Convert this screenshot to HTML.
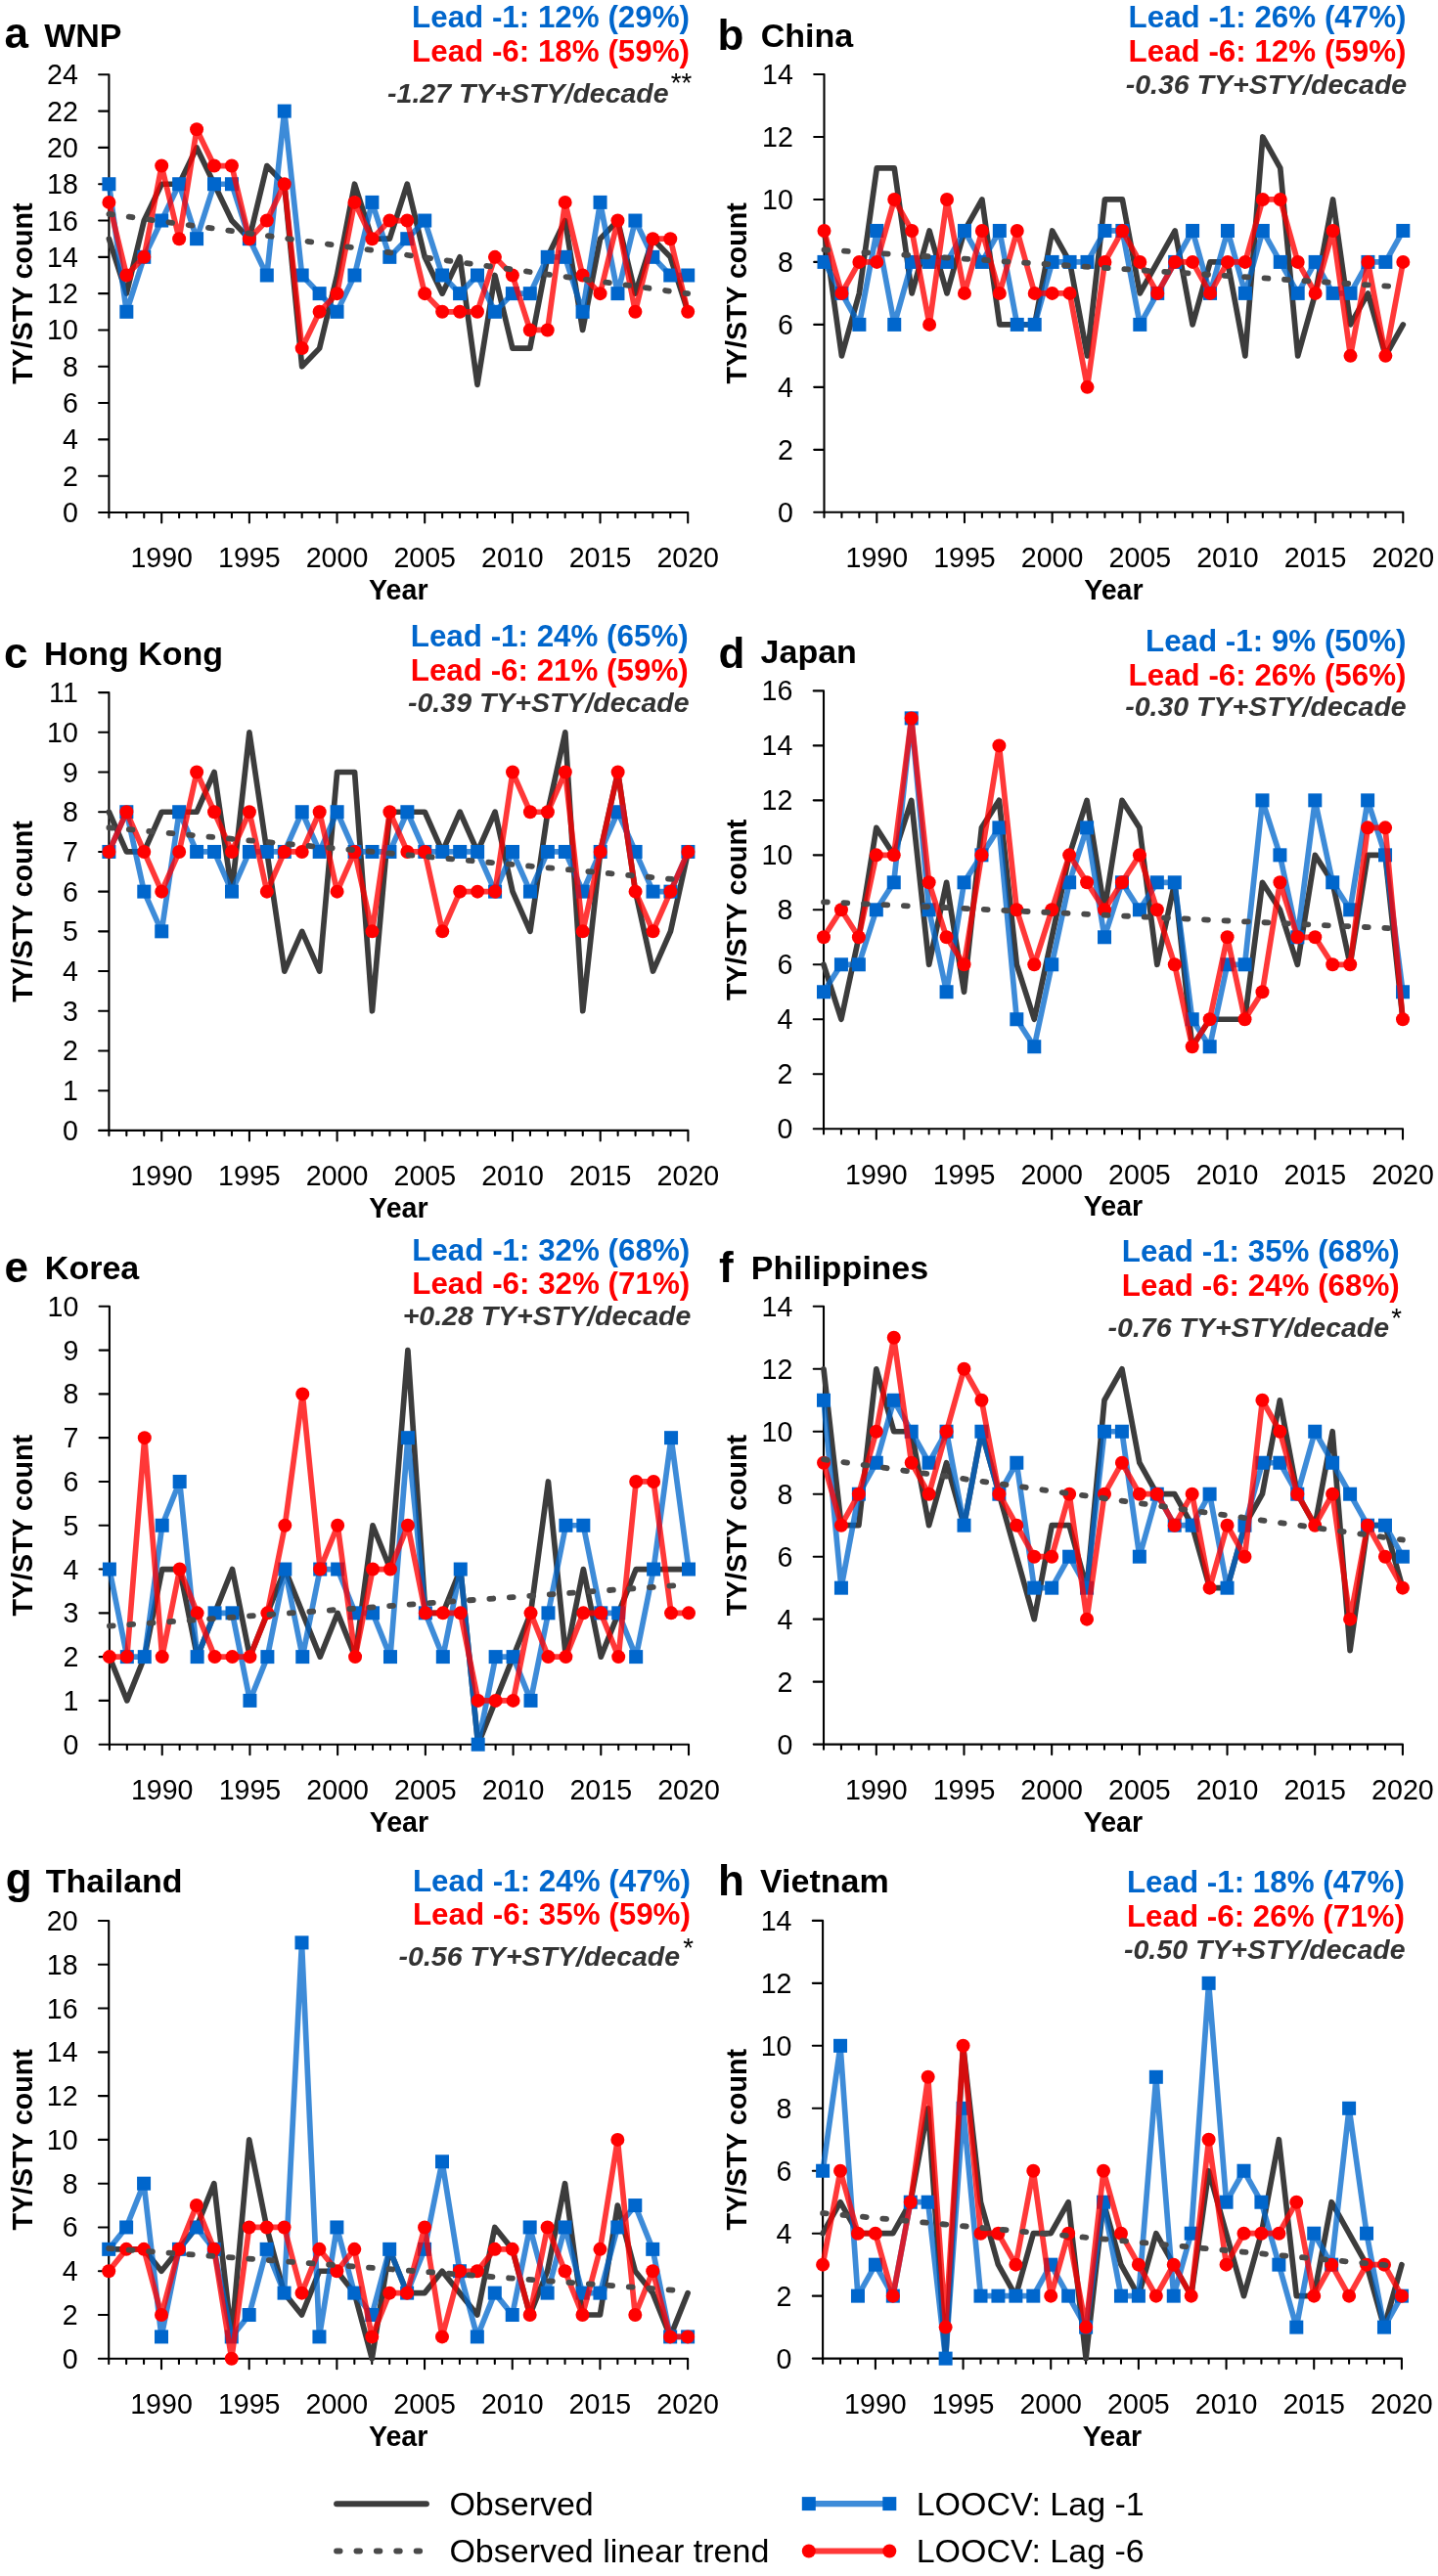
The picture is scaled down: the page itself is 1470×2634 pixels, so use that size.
<!DOCTYPE html><html><head><meta charset="utf-8"><style>html,body{margin:0;padding:0;background:#fff;overflow:hidden;width:1470px;height:2634px}svg{display:block;will-change:transform}text{font-family:"Liberation Sans", sans-serif}</style></head><body>
<svg width="1470" height="2634" viewBox="0 0 1470 2634">
<rect width="1470" height="2634" fill="#fff"/>
<g stroke="#000" stroke-width="2.1" fill="none" stroke-linecap="round">
<path d="M111.4 76.3V529.2M101.1 524H111.4M101.1 486.69H111.4M101.1 449.38H111.4M101.1 412.07H111.4M101.1 374.77H111.4M101.1 337.46H111.4M101.1 300.15H111.4M101.1 262.84H111.4M101.1 225.53H111.4M101.1 188.23H111.4M101.1 150.92H111.4M101.1 113.61H111.4M101.1 76.3H111.4M111.4 524H703.2M129.33 524v5.2M147.27 524v5.2M165.2 524v10.5M183.13 524v5.2M201.07 524v5.2M219 524v5.2M236.93 524v5.2M254.87 524v10.5M272.8 524v5.2M290.73 524v5.2M308.67 524v5.2M326.6 524v5.2M344.53 524v10.5M362.47 524v5.2M380.4 524v5.2M398.33 524v5.2M416.27 524v5.2M434.2 524v10.5M452.13 524v5.2M470.07 524v5.2M488 524v5.2M505.93 524v5.2M523.87 524v10.5M541.8 524v5.2M559.73 524v5.2M577.67 524v5.2M595.6 524v5.2M613.53 524v10.5M631.47 524v5.2M649.4 524v5.2M667.33 524v5.2M685.27 524v5.2M703.2 524v10.5"/>
</g>
<text x="79.8" y="533.98" font-size="28.6" fill="#000" text-anchor="end">0</text>
<text x="79.8" y="496.67" font-size="28.6" fill="#000" text-anchor="end">2</text>
<text x="79.8" y="459.36" font-size="28.6" fill="#000" text-anchor="end">4</text>
<text x="79.8" y="422.06" font-size="28.6" fill="#000" text-anchor="end">6</text>
<text x="79.8" y="384.75" font-size="28.6" fill="#000" text-anchor="end">8</text>
<text x="79.8" y="347.44" font-size="28.6" fill="#000" text-anchor="end">10</text>
<text x="79.8" y="310.13" font-size="28.6" fill="#000" text-anchor="end">12</text>
<text x="79.8" y="272.82" font-size="28.6" fill="#000" text-anchor="end">14</text>
<text x="79.8" y="235.51" font-size="28.6" fill="#000" text-anchor="end">16</text>
<text x="79.8" y="198.21" font-size="28.6" fill="#000" text-anchor="end">18</text>
<text x="79.8" y="160.9" font-size="28.6" fill="#000" text-anchor="end">20</text>
<text x="79.8" y="123.59" font-size="28.6" fill="#000" text-anchor="end">22</text>
<text x="79.8" y="86.28" font-size="28.6" fill="#000" text-anchor="end">24</text>
<text x="165.2" y="580.3" font-size="28.6" fill="#000" text-anchor="middle">1990</text>
<text x="254.87" y="580.3" font-size="28.6" fill="#000" text-anchor="middle">1995</text>
<text x="344.53" y="580.3" font-size="28.6" fill="#000" text-anchor="middle">2000</text>
<text x="434.2" y="580.3" font-size="28.6" fill="#000" text-anchor="middle">2005</text>
<text x="523.87" y="580.3" font-size="28.6" fill="#000" text-anchor="middle">2010</text>
<text x="613.53" y="580.3" font-size="28.6" fill="#000" text-anchor="middle">2015</text>
<text x="703.2" y="580.3" font-size="28.6" fill="#000" text-anchor="middle">2020</text>
<text x="407.3" y="613" font-size="28.6" font-weight="bold" fill="#000" text-anchor="middle">Year</text>
<text transform="translate(32.6 300.15) rotate(-90)" font-size="28.6" font-weight="bold" text-anchor="middle">TY/STY count</text>
<polyline points="111.4,244.19 129.33,300.15 147.27,225.53 165.2,188.23 183.13,188.23 201.07,150.92 219,188.23 236.93,225.53 254.87,244.19 272.8,169.57 290.73,188.23 308.67,374.77 326.6,356.11 344.53,281.5 362.47,188.23 380.4,244.19 398.33,244.19 416.27,188.23 434.2,262.84 452.13,300.15 470.07,262.84 488,393.42 505.93,281.5 523.87,356.11 541.8,356.11 559.73,262.84 577.67,225.53 595.6,337.46 613.53,244.19 631.47,225.53 649.4,300.15 667.33,244.19 685.27,262.84 703.2,318.8" fill="none" stroke="#3c3c3c" stroke-width="5.7" stroke-linejoin="round" stroke-linecap="round"/>
<polyline points="111.4,188.23 129.33,318.8 147.27,262.84 165.2,225.53 183.13,188.23 201.07,244.19 219,188.23 236.93,188.23 254.87,244.19 272.8,281.5 290.73,113.61 308.67,281.5 326.6,300.15 344.53,318.8 362.47,281.5 380.4,206.88 398.33,262.84 416.27,244.19 434.2,225.53 452.13,281.5 470.07,300.15 488,281.5 505.93,318.8 523.87,300.15 541.8,300.15 559.73,262.84 577.67,262.84 595.6,318.8 613.53,206.88 631.47,300.15 649.4,225.53 667.33,262.84 685.27,281.5 703.2,281.5" fill="none" stroke="#0066cc" stroke-opacity="0.76" stroke-width="5.7" stroke-linejoin="round" stroke-linecap="round"/>
<g fill="#0066cc"><rect x="104.4" y="181.23" width="14" height="14"/><rect x="122.33" y="311.8" width="14" height="14"/><rect x="140.27" y="255.84" width="14" height="14"/><rect x="158.2" y="218.53" width="14" height="14"/><rect x="176.13" y="181.23" width="14" height="14"/><rect x="194.07" y="237.19" width="14" height="14"/><rect x="212" y="181.23" width="14" height="14"/><rect x="229.93" y="181.23" width="14" height="14"/><rect x="247.87" y="237.19" width="14" height="14"/><rect x="265.8" y="274.5" width="14" height="14"/><rect x="283.73" y="106.61" width="14" height="14"/><rect x="301.67" y="274.5" width="14" height="14"/><rect x="319.6" y="293.15" width="14" height="14"/><rect x="337.53" y="311.8" width="14" height="14"/><rect x="355.47" y="274.5" width="14" height="14"/><rect x="373.4" y="199.88" width="14" height="14"/><rect x="391.33" y="255.84" width="14" height="14"/><rect x="409.27" y="237.19" width="14" height="14"/><rect x="427.2" y="218.53" width="14" height="14"/><rect x="445.13" y="274.5" width="14" height="14"/><rect x="463.07" y="293.15" width="14" height="14"/><rect x="481" y="274.5" width="14" height="14"/><rect x="498.93" y="311.8" width="14" height="14"/><rect x="516.87" y="293.15" width="14" height="14"/><rect x="534.8" y="293.15" width="14" height="14"/><rect x="552.73" y="255.84" width="14" height="14"/><rect x="570.67" y="255.84" width="14" height="14"/><rect x="588.6" y="311.8" width="14" height="14"/><rect x="606.53" y="199.88" width="14" height="14"/><rect x="624.47" y="293.15" width="14" height="14"/><rect x="642.4" y="218.53" width="14" height="14"/><rect x="660.33" y="255.84" width="14" height="14"/><rect x="678.27" y="274.5" width="14" height="14"/><rect x="696.2" y="274.5" width="14" height="14"/></g>
<polyline points="111.4,206.88 129.33,281.5 147.27,262.84 165.2,169.57 183.13,244.19 201.07,132.26 219,169.57 236.93,169.57 254.87,244.19 272.8,225.53 290.73,188.23 308.67,356.11 326.6,318.8 344.53,300.15 362.47,206.88 380.4,244.19 398.33,225.53 416.27,225.53 434.2,300.15 452.13,318.8 470.07,318.8 488,318.8 505.93,262.84 523.87,281.5 541.8,337.46 559.73,337.46 577.67,206.88 595.6,281.5 613.53,300.15 631.47,225.53 649.4,318.8 667.33,244.19 685.27,244.19 703.2,318.8" fill="none" stroke="#ff0000" stroke-opacity="0.78" stroke-width="5.7" stroke-linejoin="round" stroke-linecap="round"/>
<g fill="#ff0000"><circle cx="111.4" cy="206.88" r="7"/><circle cx="129.33" cy="281.5" r="7"/><circle cx="147.27" cy="262.84" r="7"/><circle cx="165.2" cy="169.57" r="7"/><circle cx="183.13" cy="244.19" r="7"/><circle cx="201.07" cy="132.26" r="7"/><circle cx="219" cy="169.57" r="7"/><circle cx="236.93" cy="169.57" r="7"/><circle cx="254.87" cy="244.19" r="7"/><circle cx="272.8" cy="225.53" r="7"/><circle cx="290.73" cy="188.23" r="7"/><circle cx="308.67" cy="356.11" r="7"/><circle cx="326.6" cy="318.8" r="7"/><circle cx="344.53" cy="300.15" r="7"/><circle cx="362.47" cy="206.88" r="7"/><circle cx="380.4" cy="244.19" r="7"/><circle cx="398.33" cy="225.53" r="7"/><circle cx="416.27" cy="225.53" r="7"/><circle cx="434.2" cy="300.15" r="7"/><circle cx="452.13" cy="318.8" r="7"/><circle cx="470.07" cy="318.8" r="7"/><circle cx="488" cy="318.8" r="7"/><circle cx="505.93" cy="262.84" r="7"/><circle cx="523.87" cy="281.5" r="7"/><circle cx="541.8" cy="337.46" r="7"/><circle cx="559.73" cy="337.46" r="7"/><circle cx="577.67" cy="206.88" r="7"/><circle cx="595.6" cy="281.5" r="7"/><circle cx="613.53" cy="300.15" r="7"/><circle cx="631.47" cy="225.53" r="7"/><circle cx="649.4" cy="318.8" r="7"/><circle cx="667.33" cy="244.19" r="7"/><circle cx="685.27" cy="244.19" r="7"/><circle cx="703.2" cy="318.8" r="7"/></g>
<line x1="111.4" y1="218.92" x2="703.2" y2="300.18" stroke="#4a4a4a" stroke-width="5.8" stroke-linecap="round" stroke-dasharray="3.8 16.7"/>
<text x="4.51" y="48.6" font-size="44" font-weight="bold" fill="#000">a</text>
<text x="45.17" y="48" font-size="34" font-weight="bold" fill="#000">WNP</text>
<text x="421.07" y="28.4" font-size="31.35" font-weight="bold" fill="#0066cc">Lead -1: 12% (29%)</text>
<text x="421.07" y="63" font-size="31.35" font-weight="bold" fill="#ff0000">Lead -6: 18% (59%)</text>
<text x="396.12" y="105" font-size="28.5" font-weight="bold" font-style="italic" fill="#333333">-1.27 TY+STY/decade</text>
<text x="685.76" y="94.12" font-size="27.5" fill="#000">**</text>
<g stroke="#000" stroke-width="2.1" fill="none" stroke-linecap="round">
<path d="M842.5 76V529M832.2 523.8H842.5M832.2 459.83H842.5M832.2 395.86H842.5M832.2 331.89H842.5M832.2 267.91H842.5M832.2 203.94H842.5M832.2 139.97H842.5M832.2 76H842.5M842.5 523.8H1434.3M860.43 523.8v5.2M878.37 523.8v5.2M896.3 523.8v10.5M914.23 523.8v5.2M932.17 523.8v5.2M950.1 523.8v5.2M968.03 523.8v5.2M985.97 523.8v10.5M1003.9 523.8v5.2M1021.83 523.8v5.2M1039.77 523.8v5.2M1057.7 523.8v5.2M1075.63 523.8v10.5M1093.57 523.8v5.2M1111.5 523.8v5.2M1129.43 523.8v5.2M1147.37 523.8v5.2M1165.3 523.8v10.5M1183.23 523.8v5.2M1201.17 523.8v5.2M1219.1 523.8v5.2M1237.03 523.8v5.2M1254.97 523.8v10.5M1272.9 523.8v5.2M1290.83 523.8v5.2M1308.77 523.8v5.2M1326.7 523.8v5.2M1344.63 523.8v10.5M1362.57 523.8v5.2M1380.5 523.8v5.2M1398.43 523.8v5.2M1416.37 523.8v5.2M1434.3 523.8v10.5"/>
</g>
<text x="810.9" y="533.78" font-size="28.6" fill="#000" text-anchor="end">0</text>
<text x="810.9" y="469.81" font-size="28.6" fill="#000" text-anchor="end">2</text>
<text x="810.9" y="405.84" font-size="28.6" fill="#000" text-anchor="end">4</text>
<text x="810.9" y="341.87" font-size="28.6" fill="#000" text-anchor="end">6</text>
<text x="810.9" y="277.89" font-size="28.6" fill="#000" text-anchor="end">8</text>
<text x="810.9" y="213.92" font-size="28.6" fill="#000" text-anchor="end">10</text>
<text x="810.9" y="149.95" font-size="28.6" fill="#000" text-anchor="end">12</text>
<text x="810.9" y="85.98" font-size="28.6" fill="#000" text-anchor="end">14</text>
<text x="896.3" y="580.1" font-size="28.6" fill="#000" text-anchor="middle">1990</text>
<text x="985.97" y="580.1" font-size="28.6" fill="#000" text-anchor="middle">1995</text>
<text x="1075.63" y="580.1" font-size="28.6" fill="#000" text-anchor="middle">2000</text>
<text x="1165.3" y="580.1" font-size="28.6" fill="#000" text-anchor="middle">2005</text>
<text x="1254.97" y="580.1" font-size="28.6" fill="#000" text-anchor="middle">2010</text>
<text x="1344.63" y="580.1" font-size="28.6" fill="#000" text-anchor="middle">2015</text>
<text x="1434.3" y="580.1" font-size="28.6" fill="#000" text-anchor="middle">2020</text>
<text x="1138.4" y="612.8" font-size="28.6" font-weight="bold" fill="#000" text-anchor="middle">Year</text>
<text transform="translate(763.3 299.9) rotate(-90)" font-size="28.6" font-weight="bold" text-anchor="middle">TY/STY count</text>
<polyline points="842.5,235.93 860.43,363.87 878.37,299.9 896.3,171.96 914.23,171.96 932.17,299.9 950.1,235.93 968.03,299.9 985.97,235.93 1003.9,203.94 1021.83,331.89 1039.77,331.89 1057.7,331.89 1075.63,235.93 1093.57,267.91 1111.5,363.87 1129.43,203.94 1147.37,203.94 1165.3,299.9 1183.23,267.91 1201.17,235.93 1219.1,331.89 1237.03,267.91 1254.97,267.91 1272.9,363.87 1290.83,139.97 1308.77,171.96 1326.7,363.87 1344.63,299.9 1362.57,203.94 1380.5,331.89 1398.43,299.9 1416.37,363.87 1434.3,331.89" fill="none" stroke="#3c3c3c" stroke-width="5.7" stroke-linejoin="round" stroke-linecap="round"/>
<polyline points="842.5,267.91 860.43,299.9 878.37,331.89 896.3,235.93 914.23,331.89 932.17,267.91 950.1,267.91 968.03,267.91 985.97,235.93 1003.9,267.91 1021.83,235.93 1039.77,331.89 1057.7,331.89 1075.63,267.91 1093.57,267.91 1111.5,267.91 1129.43,235.93 1147.37,235.93 1165.3,331.89 1183.23,299.9 1201.17,267.91 1219.1,235.93 1237.03,299.9 1254.97,235.93 1272.9,299.9 1290.83,235.93 1308.77,267.91 1326.7,299.9 1344.63,267.91 1362.57,299.9 1380.5,299.9 1398.43,267.91 1416.37,267.91 1434.3,235.93" fill="none" stroke="#0066cc" stroke-opacity="0.76" stroke-width="5.7" stroke-linejoin="round" stroke-linecap="round"/>
<g fill="#0066cc"><rect x="835.5" y="260.91" width="14" height="14"/><rect x="853.43" y="292.9" width="14" height="14"/><rect x="871.37" y="324.89" width="14" height="14"/><rect x="889.3" y="228.93" width="14" height="14"/><rect x="907.23" y="324.89" width="14" height="14"/><rect x="925.17" y="260.91" width="14" height="14"/><rect x="943.1" y="260.91" width="14" height="14"/><rect x="961.03" y="260.91" width="14" height="14"/><rect x="978.97" y="228.93" width="14" height="14"/><rect x="996.9" y="260.91" width="14" height="14"/><rect x="1014.83" y="228.93" width="14" height="14"/><rect x="1032.77" y="324.89" width="14" height="14"/><rect x="1050.7" y="324.89" width="14" height="14"/><rect x="1068.63" y="260.91" width="14" height="14"/><rect x="1086.57" y="260.91" width="14" height="14"/><rect x="1104.5" y="260.91" width="14" height="14"/><rect x="1122.43" y="228.93" width="14" height="14"/><rect x="1140.37" y="228.93" width="14" height="14"/><rect x="1158.3" y="324.89" width="14" height="14"/><rect x="1176.23" y="292.9" width="14" height="14"/><rect x="1194.17" y="260.91" width="14" height="14"/><rect x="1212.1" y="228.93" width="14" height="14"/><rect x="1230.03" y="292.9" width="14" height="14"/><rect x="1247.97" y="228.93" width="14" height="14"/><rect x="1265.9" y="292.9" width="14" height="14"/><rect x="1283.83" y="228.93" width="14" height="14"/><rect x="1301.77" y="260.91" width="14" height="14"/><rect x="1319.7" y="292.9" width="14" height="14"/><rect x="1337.63" y="260.91" width="14" height="14"/><rect x="1355.57" y="292.9" width="14" height="14"/><rect x="1373.5" y="292.9" width="14" height="14"/><rect x="1391.43" y="260.91" width="14" height="14"/><rect x="1409.37" y="260.91" width="14" height="14"/><rect x="1427.3" y="228.93" width="14" height="14"/></g>
<polyline points="842.5,235.93 860.43,299.9 878.37,267.91 896.3,267.91 914.23,203.94 932.17,235.93 950.1,331.89 968.03,203.94 985.97,299.9 1003.9,235.93 1021.83,299.9 1039.77,235.93 1057.7,299.9 1075.63,299.9 1093.57,299.9 1111.5,395.86 1129.43,267.91 1147.37,235.93 1165.3,267.91 1183.23,299.9 1201.17,267.91 1219.1,267.91 1237.03,299.9 1254.97,267.91 1272.9,267.91 1290.83,203.94 1308.77,203.94 1326.7,267.91 1344.63,299.9 1362.57,235.93 1380.5,363.87 1398.43,267.91 1416.37,363.87 1434.3,267.91" fill="none" stroke="#ff0000" stroke-opacity="0.78" stroke-width="5.7" stroke-linejoin="round" stroke-linecap="round"/>
<g fill="#ff0000"><circle cx="842.5" cy="235.93" r="7"/><circle cx="860.43" cy="299.9" r="7"/><circle cx="878.37" cy="267.91" r="7"/><circle cx="896.3" cy="267.91" r="7"/><circle cx="914.23" cy="203.94" r="7"/><circle cx="932.17" cy="235.93" r="7"/><circle cx="950.1" cy="331.89" r="7"/><circle cx="968.03" cy="203.94" r="7"/><circle cx="985.97" cy="299.9" r="7"/><circle cx="1003.9" cy="235.93" r="7"/><circle cx="1021.83" cy="299.9" r="7"/><circle cx="1039.77" cy="235.93" r="7"/><circle cx="1057.7" cy="299.9" r="7"/><circle cx="1075.63" cy="299.9" r="7"/><circle cx="1093.57" cy="299.9" r="7"/><circle cx="1111.5" cy="395.86" r="7"/><circle cx="1129.43" cy="267.91" r="7"/><circle cx="1147.37" cy="235.93" r="7"/><circle cx="1165.3" cy="267.91" r="7"/><circle cx="1183.23" cy="299.9" r="7"/><circle cx="1201.17" cy="267.91" r="7"/><circle cx="1219.1" cy="267.91" r="7"/><circle cx="1237.03" cy="299.9" r="7"/><circle cx="1254.97" cy="267.91" r="7"/><circle cx="1272.9" cy="267.91" r="7"/><circle cx="1290.83" cy="203.94" r="7"/><circle cx="1308.77" cy="203.94" r="7"/><circle cx="1326.7" cy="267.91" r="7"/><circle cx="1344.63" cy="299.9" r="7"/><circle cx="1362.57" cy="235.93" r="7"/><circle cx="1380.5" cy="363.87" r="7"/><circle cx="1398.43" cy="267.91" r="7"/><circle cx="1416.37" cy="363.87" r="7"/><circle cx="1434.3" cy="267.91" r="7"/></g>
<line x1="842.5" y1="255.39" x2="1434.3" y2="293.61" stroke="#4a4a4a" stroke-width="5.8" stroke-linecap="round" stroke-dasharray="3.8 16.7"/>
<text x="733.4" y="51.4" font-size="44" font-weight="bold" fill="#000">b</text>
<text x="777.81" y="48.1" font-size="34" font-weight="bold" fill="#000">China</text>
<text x="1153.57" y="28" font-size="31.35" font-weight="bold" fill="#0066cc">Lead -1: 26% (47%)</text>
<text x="1153.57" y="63.1" font-size="31.35" font-weight="bold" fill="#ff0000">Lead -6: 12% (59%)</text>
<text x="1150.72" y="95.6" font-size="28.5" font-weight="bold" font-style="italic" fill="#333333">-0.36 TY+STY/decade</text>
<g stroke="#000" stroke-width="2.1" fill="none" stroke-linecap="round">
<path d="M111.4 708.1V1161.1M101.1 1155.9H111.4M101.1 1115.19H111.4M101.1 1074.48H111.4M101.1 1033.77H111.4M101.1 993.06H111.4M101.1 952.35H111.4M101.1 911.65H111.4M101.1 870.94H111.4M101.1 830.23H111.4M101.1 789.52H111.4M101.1 748.81H111.4M101.1 708.1H111.4M111.4 1155.9H703.4M129.34 1155.9v5.2M147.28 1155.9v5.2M165.22 1155.9v10.5M183.16 1155.9v5.2M201.1 1155.9v5.2M219.04 1155.9v5.2M236.98 1155.9v5.2M254.92 1155.9v10.5M272.85 1155.9v5.2M290.79 1155.9v5.2M308.73 1155.9v5.2M326.67 1155.9v5.2M344.61 1155.9v10.5M362.55 1155.9v5.2M380.49 1155.9v5.2M398.43 1155.9v5.2M416.37 1155.9v5.2M434.31 1155.9v10.5M452.25 1155.9v5.2M470.19 1155.9v5.2M488.13 1155.9v5.2M506.07 1155.9v5.2M524.01 1155.9v10.5M541.95 1155.9v5.2M559.88 1155.9v5.2M577.82 1155.9v5.2M595.76 1155.9v5.2M613.7 1155.9v10.5M631.64 1155.9v5.2M649.58 1155.9v5.2M667.52 1155.9v5.2M685.46 1155.9v5.2M703.4 1155.9v10.5"/>
</g>
<text x="79.8" y="1165.88" font-size="28.6" fill="#000" text-anchor="end">0</text>
<text x="79.8" y="1125.17" font-size="28.6" fill="#000" text-anchor="end">1</text>
<text x="79.8" y="1084.46" font-size="28.6" fill="#000" text-anchor="end">2</text>
<text x="79.8" y="1043.75" font-size="28.6" fill="#000" text-anchor="end">3</text>
<text x="79.8" y="1003.04" font-size="28.6" fill="#000" text-anchor="end">4</text>
<text x="79.8" y="962.33" font-size="28.6" fill="#000" text-anchor="end">5</text>
<text x="79.8" y="921.63" font-size="28.6" fill="#000" text-anchor="end">6</text>
<text x="79.8" y="880.92" font-size="28.6" fill="#000" text-anchor="end">7</text>
<text x="79.8" y="840.21" font-size="28.6" fill="#000" text-anchor="end">8</text>
<text x="79.8" y="799.5" font-size="28.6" fill="#000" text-anchor="end">9</text>
<text x="79.8" y="758.79" font-size="28.6" fill="#000" text-anchor="end">10</text>
<text x="79.8" y="718.08" font-size="28.6" fill="#000" text-anchor="end">11</text>
<text x="165.22" y="1212.2" font-size="28.6" fill="#000" text-anchor="middle">1990</text>
<text x="254.92" y="1212.2" font-size="28.6" fill="#000" text-anchor="middle">1995</text>
<text x="344.61" y="1212.2" font-size="28.6" fill="#000" text-anchor="middle">2000</text>
<text x="434.31" y="1212.2" font-size="28.6" fill="#000" text-anchor="middle">2005</text>
<text x="524.01" y="1212.2" font-size="28.6" fill="#000" text-anchor="middle">2010</text>
<text x="613.7" y="1212.2" font-size="28.6" fill="#000" text-anchor="middle">2015</text>
<text x="703.4" y="1212.2" font-size="28.6" fill="#000" text-anchor="middle">2020</text>
<text x="407.4" y="1244.9" font-size="28.6" font-weight="bold" fill="#000" text-anchor="middle">Year</text>
<text transform="translate(32.6 932) rotate(-90)" font-size="28.6" font-weight="bold" text-anchor="middle">TY/STY count</text>
<polyline points="111.4,830.23 129.34,870.94 147.28,870.94 165.22,830.23 183.16,830.23 201.1,830.23 219.04,789.52 236.98,911.65 254.92,748.81 272.85,870.94 290.79,993.06 308.73,952.35 326.67,993.06 344.61,789.52 362.55,789.52 380.49,1033.77 398.43,830.23 416.37,830.23 434.31,830.23 452.25,870.94 470.19,830.23 488.13,870.94 506.07,830.23 524.01,911.65 541.95,952.35 559.88,830.23 577.82,748.81 595.76,1033.77 613.7,870.94 631.64,789.52 649.58,911.65 667.52,993.06 685.46,952.35 703.4,870.94" fill="none" stroke="#3c3c3c" stroke-width="5.7" stroke-linejoin="round" stroke-linecap="round"/>
<polyline points="111.4,870.94 129.34,830.23 147.28,911.65 165.22,952.35 183.16,830.23 201.1,870.94 219.04,870.94 236.98,911.65 254.92,870.94 272.85,870.94 290.79,870.94 308.73,830.23 326.67,870.94 344.61,830.23 362.55,870.94 380.49,870.94 398.43,870.94 416.37,830.23 434.31,870.94 452.25,870.94 470.19,870.94 488.13,870.94 506.07,911.65 524.01,870.94 541.95,911.65 559.88,870.94 577.82,870.94 595.76,911.65 613.7,870.94 631.64,830.23 649.58,870.94 667.52,911.65 685.46,911.65 703.4,870.94" fill="none" stroke="#0066cc" stroke-opacity="0.76" stroke-width="5.7" stroke-linejoin="round" stroke-linecap="round"/>
<g fill="#0066cc"><rect x="104.4" y="863.94" width="14" height="14"/><rect x="122.34" y="823.23" width="14" height="14"/><rect x="140.28" y="904.65" width="14" height="14"/><rect x="158.22" y="945.35" width="14" height="14"/><rect x="176.16" y="823.23" width="14" height="14"/><rect x="194.1" y="863.94" width="14" height="14"/><rect x="212.04" y="863.94" width="14" height="14"/><rect x="229.98" y="904.65" width="14" height="14"/><rect x="247.92" y="863.94" width="14" height="14"/><rect x="265.85" y="863.94" width="14" height="14"/><rect x="283.79" y="863.94" width="14" height="14"/><rect x="301.73" y="823.23" width="14" height="14"/><rect x="319.67" y="863.94" width="14" height="14"/><rect x="337.61" y="823.23" width="14" height="14"/><rect x="355.55" y="863.94" width="14" height="14"/><rect x="373.49" y="863.94" width="14" height="14"/><rect x="391.43" y="863.94" width="14" height="14"/><rect x="409.37" y="823.23" width="14" height="14"/><rect x="427.31" y="863.94" width="14" height="14"/><rect x="445.25" y="863.94" width="14" height="14"/><rect x="463.19" y="863.94" width="14" height="14"/><rect x="481.13" y="863.94" width="14" height="14"/><rect x="499.07" y="904.65" width="14" height="14"/><rect x="517.01" y="863.94" width="14" height="14"/><rect x="534.95" y="904.65" width="14" height="14"/><rect x="552.88" y="863.94" width="14" height="14"/><rect x="570.82" y="863.94" width="14" height="14"/><rect x="588.76" y="904.65" width="14" height="14"/><rect x="606.7" y="863.94" width="14" height="14"/><rect x="624.64" y="823.23" width="14" height="14"/><rect x="642.58" y="863.94" width="14" height="14"/><rect x="660.52" y="904.65" width="14" height="14"/><rect x="678.46" y="904.65" width="14" height="14"/><rect x="696.4" y="863.94" width="14" height="14"/></g>
<polyline points="111.4,870.94 129.34,830.23 147.28,870.94 165.22,911.65 183.16,870.94 201.1,789.52 219.04,830.23 236.98,870.94 254.92,830.23 272.85,911.65 290.79,870.94 308.73,870.94 326.67,830.23 344.61,911.65 362.55,870.94 380.49,952.35 398.43,830.23 416.37,870.94 434.31,870.94 452.25,952.35 470.19,911.65 488.13,911.65 506.07,911.65 524.01,789.52 541.95,830.23 559.88,830.23 577.82,789.52 595.76,952.35 613.7,870.94 631.64,789.52 649.58,911.65 667.52,952.35 685.46,911.65 703.4,870.94" fill="none" stroke="#ff0000" stroke-opacity="0.78" stroke-width="5.7" stroke-linejoin="round" stroke-linecap="round"/>
<g fill="#ff0000"><circle cx="111.4" cy="870.94" r="7"/><circle cx="129.34" cy="830.23" r="7"/><circle cx="147.28" cy="870.94" r="7"/><circle cx="165.22" cy="911.65" r="7"/><circle cx="183.16" cy="870.94" r="7"/><circle cx="201.1" cy="789.52" r="7"/><circle cx="219.04" cy="830.23" r="7"/><circle cx="236.98" cy="870.94" r="7"/><circle cx="254.92" cy="830.23" r="7"/><circle cx="272.85" cy="911.65" r="7"/><circle cx="290.79" cy="870.94" r="7"/><circle cx="308.73" cy="870.94" r="7"/><circle cx="326.67" cy="830.23" r="7"/><circle cx="344.61" cy="911.65" r="7"/><circle cx="362.55" cy="870.94" r="7"/><circle cx="380.49" cy="952.35" r="7"/><circle cx="398.43" cy="830.23" r="7"/><circle cx="416.37" cy="870.94" r="7"/><circle cx="434.31" cy="870.94" r="7"/><circle cx="452.25" cy="952.35" r="7"/><circle cx="470.19" cy="911.65" r="7"/><circle cx="488.13" cy="911.65" r="7"/><circle cx="506.07" cy="911.65" r="7"/><circle cx="524.01" cy="789.52" r="7"/><circle cx="541.95" cy="830.23" r="7"/><circle cx="559.88" cy="830.23" r="7"/><circle cx="577.82" cy="789.52" r="7"/><circle cx="595.76" cy="952.35" r="7"/><circle cx="613.7" cy="870.94" r="7"/><circle cx="631.64" cy="789.52" r="7"/><circle cx="649.58" cy="911.65" r="7"/><circle cx="667.52" cy="952.35" r="7"/><circle cx="685.46" cy="911.65" r="7"/><circle cx="703.4" cy="870.94" r="7"/></g>
<line x1="111.4" y1="846.24" x2="703.4" y2="900.42" stroke="#4a4a4a" stroke-width="5.8" stroke-linecap="round" stroke-dasharray="3.8 16.7"/>
<text x="4.08" y="682.8" font-size="44" font-weight="bold" fill="#000">c</text>
<text x="44.93" y="680.1" font-size="34" font-weight="bold" fill="#000">Hong Kong</text>
<text x="419.77" y="661" font-size="31.35" font-weight="bold" fill="#0066cc">Lead -1: 24% (65%)</text>
<text x="419.77" y="695.8" font-size="31.35" font-weight="bold" fill="#ff0000">Lead -6: 21% (59%)</text>
<text x="417.02" y="727.8" font-size="28.5" font-weight="bold" font-style="italic" fill="#333333">-0.39 TY+STY/decade</text>
<g stroke="#000" stroke-width="2.1" fill="none" stroke-linecap="round">
<path d="M842 706.4V1159.4M831.7 1154.2H842M831.7 1098.23H842M831.7 1042.25H842M831.7 986.28H842M831.7 930.3H842M831.7 874.33H842M831.7 818.35H842M831.7 762.38H842M831.7 706.4H842M842 1154.2H1434M859.94 1154.2v5.2M877.88 1154.2v5.2M895.82 1154.2v10.5M913.76 1154.2v5.2M931.7 1154.2v5.2M949.64 1154.2v5.2M967.58 1154.2v5.2M985.52 1154.2v10.5M1003.45 1154.2v5.2M1021.39 1154.2v5.2M1039.33 1154.2v5.2M1057.27 1154.2v5.2M1075.21 1154.2v10.5M1093.15 1154.2v5.2M1111.09 1154.2v5.2M1129.03 1154.2v5.2M1146.97 1154.2v5.2M1164.91 1154.2v10.5M1182.85 1154.2v5.2M1200.79 1154.2v5.2M1218.73 1154.2v5.2M1236.67 1154.2v5.2M1254.61 1154.2v10.5M1272.55 1154.2v5.2M1290.48 1154.2v5.2M1308.42 1154.2v5.2M1326.36 1154.2v5.2M1344.3 1154.2v10.5M1362.24 1154.2v5.2M1380.18 1154.2v5.2M1398.12 1154.2v5.2M1416.06 1154.2v5.2M1434 1154.2v10.5"/>
</g>
<text x="810.4" y="1164.18" font-size="28.6" fill="#000" text-anchor="end">0</text>
<text x="810.4" y="1108.21" font-size="28.6" fill="#000" text-anchor="end">2</text>
<text x="810.4" y="1052.23" font-size="28.6" fill="#000" text-anchor="end">4</text>
<text x="810.4" y="996.26" font-size="28.6" fill="#000" text-anchor="end">6</text>
<text x="810.4" y="940.28" font-size="28.6" fill="#000" text-anchor="end">8</text>
<text x="810.4" y="884.31" font-size="28.6" fill="#000" text-anchor="end">10</text>
<text x="810.4" y="828.33" font-size="28.6" fill="#000" text-anchor="end">12</text>
<text x="810.4" y="772.36" font-size="28.6" fill="#000" text-anchor="end">14</text>
<text x="810.4" y="716.38" font-size="28.6" fill="#000" text-anchor="end">16</text>
<text x="895.82" y="1210.5" font-size="28.6" fill="#000" text-anchor="middle">1990</text>
<text x="985.52" y="1210.5" font-size="28.6" fill="#000" text-anchor="middle">1995</text>
<text x="1075.21" y="1210.5" font-size="28.6" fill="#000" text-anchor="middle">2000</text>
<text x="1164.91" y="1210.5" font-size="28.6" fill="#000" text-anchor="middle">2005</text>
<text x="1254.61" y="1210.5" font-size="28.6" fill="#000" text-anchor="middle">2010</text>
<text x="1344.3" y="1210.5" font-size="28.6" fill="#000" text-anchor="middle">2015</text>
<text x="1434" y="1210.5" font-size="28.6" fill="#000" text-anchor="middle">2020</text>
<text x="1138" y="1243.2" font-size="28.6" font-weight="bold" fill="#000" text-anchor="middle">Year</text>
<text transform="translate(763.3 930.3) rotate(-90)" font-size="28.6" font-weight="bold" text-anchor="middle">TY/STY count</text>
<polyline points="842,986.28 859.94,1042.25 877.88,958.29 895.82,846.34 913.76,874.33 931.7,818.35 949.64,986.28 967.58,902.31 985.52,1014.26 1003.45,846.34 1021.39,818.35 1039.33,986.28 1057.27,1042.25 1075.21,958.29 1093.15,874.33 1111.09,818.35 1129.03,930.3 1146.97,818.35 1164.91,846.34 1182.85,986.28 1200.79,902.31 1218.73,1070.24 1236.67,1042.25 1254.61,1042.25 1272.55,1042.25 1290.48,902.31 1308.42,930.3 1326.36,986.28 1344.3,874.33 1362.24,902.31 1380.18,986.28 1398.12,874.33 1416.06,874.33 1434,1042.25" fill="none" stroke="#3c3c3c" stroke-width="5.7" stroke-linejoin="round" stroke-linecap="round"/>
<polyline points="842,1014.26 859.94,986.28 877.88,986.28 895.82,930.3 913.76,902.31 931.7,734.39 949.64,930.3 967.58,1014.26 985.52,902.31 1003.45,874.33 1021.39,846.34 1039.33,1042.25 1057.27,1070.24 1075.21,986.28 1093.15,902.31 1111.09,846.34 1129.03,958.29 1146.97,902.31 1164.91,930.3 1182.85,902.31 1200.79,902.31 1218.73,1042.25 1236.67,1070.24 1254.61,986.28 1272.55,986.28 1290.48,818.35 1308.42,874.33 1326.36,958.29 1344.3,818.35 1362.24,902.31 1380.18,930.3 1398.12,818.35 1416.06,874.33 1434,1014.26" fill="none" stroke="#0066cc" stroke-opacity="0.76" stroke-width="5.7" stroke-linejoin="round" stroke-linecap="round"/>
<g fill="#0066cc"><rect x="835" y="1007.26" width="14" height="14"/><rect x="852.94" y="979.28" width="14" height="14"/><rect x="870.88" y="979.28" width="14" height="14"/><rect x="888.82" y="923.3" width="14" height="14"/><rect x="906.76" y="895.31" width="14" height="14"/><rect x="924.7" y="727.39" width="14" height="14"/><rect x="942.64" y="923.3" width="14" height="14"/><rect x="960.58" y="1007.26" width="14" height="14"/><rect x="978.52" y="895.31" width="14" height="14"/><rect x="996.45" y="867.33" width="14" height="14"/><rect x="1014.39" y="839.34" width="14" height="14"/><rect x="1032.33" y="1035.25" width="14" height="14"/><rect x="1050.27" y="1063.24" width="14" height="14"/><rect x="1068.21" y="979.28" width="14" height="14"/><rect x="1086.15" y="895.31" width="14" height="14"/><rect x="1104.09" y="839.34" width="14" height="14"/><rect x="1122.03" y="951.29" width="14" height="14"/><rect x="1139.97" y="895.31" width="14" height="14"/><rect x="1157.91" y="923.3" width="14" height="14"/><rect x="1175.85" y="895.31" width="14" height="14"/><rect x="1193.79" y="895.31" width="14" height="14"/><rect x="1211.73" y="1035.25" width="14" height="14"/><rect x="1229.67" y="1063.24" width="14" height="14"/><rect x="1247.61" y="979.28" width="14" height="14"/><rect x="1265.55" y="979.28" width="14" height="14"/><rect x="1283.48" y="811.35" width="14" height="14"/><rect x="1301.42" y="867.33" width="14" height="14"/><rect x="1319.36" y="951.29" width="14" height="14"/><rect x="1337.3" y="811.35" width="14" height="14"/><rect x="1355.24" y="895.31" width="14" height="14"/><rect x="1373.18" y="923.3" width="14" height="14"/><rect x="1391.12" y="811.35" width="14" height="14"/><rect x="1409.06" y="867.33" width="14" height="14"/><rect x="1427" y="1007.26" width="14" height="14"/></g>
<polyline points="842,958.29 859.94,930.3 877.88,958.29 895.82,874.33 913.76,874.33 931.7,734.39 949.64,902.31 967.58,958.29 985.52,986.28 1003.45,874.33 1021.39,762.38 1039.33,930.3 1057.27,986.28 1075.21,930.3 1093.15,874.33 1111.09,902.31 1129.03,930.3 1146.97,902.31 1164.91,874.33 1182.85,930.3 1200.79,986.28 1218.73,1070.24 1236.67,1042.25 1254.61,958.29 1272.55,1042.25 1290.48,1014.26 1308.42,902.31 1326.36,958.29 1344.3,958.29 1362.24,986.28 1380.18,986.28 1398.12,846.34 1416.06,846.34 1434,1042.25" fill="none" stroke="#ff0000" stroke-opacity="0.78" stroke-width="5.7" stroke-linejoin="round" stroke-linecap="round"/>
<g fill="#ff0000"><circle cx="842" cy="958.29" r="7"/><circle cx="859.94" cy="930.3" r="7"/><circle cx="877.88" cy="958.29" r="7"/><circle cx="895.82" cy="874.33" r="7"/><circle cx="913.76" cy="874.33" r="7"/><circle cx="931.7" cy="734.39" r="7"/><circle cx="949.64" cy="902.31" r="7"/><circle cx="967.58" cy="958.29" r="7"/><circle cx="985.52" cy="986.28" r="7"/><circle cx="1003.45" cy="874.33" r="7"/><circle cx="1021.39" cy="762.38" r="7"/><circle cx="1039.33" cy="930.3" r="7"/><circle cx="1057.27" cy="986.28" r="7"/><circle cx="1075.21" cy="930.3" r="7"/><circle cx="1093.15" cy="874.33" r="7"/><circle cx="1111.09" cy="902.31" r="7"/><circle cx="1129.03" cy="930.3" r="7"/><circle cx="1146.97" cy="902.31" r="7"/><circle cx="1164.91" cy="874.33" r="7"/><circle cx="1182.85" cy="930.3" r="7"/><circle cx="1200.79" cy="986.28" r="7"/><circle cx="1218.73" cy="1070.24" r="7"/><circle cx="1236.67" cy="1042.25" r="7"/><circle cx="1254.61" cy="958.29" r="7"/><circle cx="1272.55" cy="1042.25" r="7"/><circle cx="1290.48" cy="1014.26" r="7"/><circle cx="1308.42" cy="902.31" r="7"/><circle cx="1326.36" cy="958.29" r="7"/><circle cx="1344.3" cy="958.29" r="7"/><circle cx="1362.24" cy="986.28" r="7"/><circle cx="1380.18" cy="986.28" r="7"/><circle cx="1398.12" cy="846.34" r="7"/><circle cx="1416.06" cy="846.34" r="7"/><circle cx="1434" cy="1042.25" r="7"/></g>
<line x1="842" y1="922.3" x2="1434" y2="949.82" stroke="#4a4a4a" stroke-width="5.8" stroke-linecap="round" stroke-dasharray="3.8 16.7"/>
<text x="734.5" y="682.8" font-size="44" font-weight="bold" fill="#000">d</text>
<text x="777.59" y="678.1" font-size="34" font-weight="bold" fill="#000">Japan</text>
<text x="1171.01" y="666.2" font-size="31.35" font-weight="bold" fill="#0066cc">Lead -1: 9% (50%)</text>
<text x="1153.57" y="700.7" font-size="31.35" font-weight="bold" fill="#ff0000">Lead -6: 26% (56%)</text>
<text x="1150.22" y="731.8" font-size="28.5" font-weight="bold" font-style="italic" fill="#333333">-0.30 TY+STY/decade</text>
<g stroke="#000" stroke-width="2.1" fill="none" stroke-linecap="round">
<path d="M111.9 1335.8V1788.9M101.6 1783.7H111.9M101.6 1738.91H111.9M101.6 1694.12H111.9M101.6 1649.33H111.9M101.6 1604.54H111.9M101.6 1559.75H111.9M101.6 1514.96H111.9M101.6 1470.17H111.9M101.6 1425.38H111.9M101.6 1380.59H111.9M101.6 1335.8H111.9M111.9 1783.7H704M129.84 1783.7v5.2M147.78 1783.7v5.2M165.73 1783.7v10.5M183.67 1783.7v5.2M201.61 1783.7v5.2M219.55 1783.7v5.2M237.5 1783.7v5.2M255.44 1783.7v10.5M273.38 1783.7v5.2M291.32 1783.7v5.2M309.27 1783.7v5.2M327.21 1783.7v5.2M345.15 1783.7v10.5M363.09 1783.7v5.2M381.04 1783.7v5.2M398.98 1783.7v5.2M416.92 1783.7v5.2M434.86 1783.7v10.5M452.81 1783.7v5.2M470.75 1783.7v5.2M488.69 1783.7v5.2M506.63 1783.7v5.2M524.58 1783.7v10.5M542.52 1783.7v5.2M560.46 1783.7v5.2M578.4 1783.7v5.2M596.35 1783.7v5.2M614.29 1783.7v10.5M632.23 1783.7v5.2M650.17 1783.7v5.2M668.12 1783.7v5.2M686.06 1783.7v5.2M704 1783.7v10.5"/>
</g>
<text x="80.3" y="1793.68" font-size="28.6" fill="#000" text-anchor="end">0</text>
<text x="80.3" y="1748.89" font-size="28.6" fill="#000" text-anchor="end">1</text>
<text x="80.3" y="1704.1" font-size="28.6" fill="#000" text-anchor="end">2</text>
<text x="80.3" y="1659.31" font-size="28.6" fill="#000" text-anchor="end">3</text>
<text x="80.3" y="1614.52" font-size="28.6" fill="#000" text-anchor="end">4</text>
<text x="80.3" y="1569.73" font-size="28.6" fill="#000" text-anchor="end">5</text>
<text x="80.3" y="1524.94" font-size="28.6" fill="#000" text-anchor="end">6</text>
<text x="80.3" y="1480.15" font-size="28.6" fill="#000" text-anchor="end">7</text>
<text x="80.3" y="1435.36" font-size="28.6" fill="#000" text-anchor="end">8</text>
<text x="80.3" y="1390.57" font-size="28.6" fill="#000" text-anchor="end">9</text>
<text x="80.3" y="1345.78" font-size="28.6" fill="#000" text-anchor="end">10</text>
<text x="165.73" y="1840" font-size="28.6" fill="#000" text-anchor="middle">1990</text>
<text x="255.44" y="1840" font-size="28.6" fill="#000" text-anchor="middle">1995</text>
<text x="345.15" y="1840" font-size="28.6" fill="#000" text-anchor="middle">2000</text>
<text x="434.86" y="1840" font-size="28.6" fill="#000" text-anchor="middle">2005</text>
<text x="524.58" y="1840" font-size="28.6" fill="#000" text-anchor="middle">2010</text>
<text x="614.29" y="1840" font-size="28.6" fill="#000" text-anchor="middle">2015</text>
<text x="704" y="1840" font-size="28.6" fill="#000" text-anchor="middle">2020</text>
<text x="407.95" y="1872.7" font-size="28.6" font-weight="bold" fill="#000" text-anchor="middle">Year</text>
<text transform="translate(32.6 1559.75) rotate(-90)" font-size="28.6" font-weight="bold" text-anchor="middle">TY/STY count</text>
<polyline points="111.9,1694.12 129.84,1738.91 147.78,1694.12 165.73,1604.54 183.67,1604.54 201.61,1694.12 219.55,1649.33 237.5,1604.54 255.44,1694.12 273.38,1649.33 291.32,1604.54 309.27,1649.33 327.21,1694.12 345.15,1649.33 363.09,1694.12 381.04,1559.75 398.98,1604.54 416.92,1380.59 434.86,1649.33 452.81,1649.33 470.75,1604.54 488.69,1783.7 506.63,1738.91 524.58,1694.12 542.52,1649.33 560.46,1514.96 578.4,1694.12 596.35,1604.54 614.29,1694.12 632.23,1649.33 650.17,1604.54 668.12,1604.54 686.06,1604.54 704,1604.54" fill="none" stroke="#3c3c3c" stroke-width="5.7" stroke-linejoin="round" stroke-linecap="round"/>
<polyline points="111.9,1604.54 129.84,1694.12 147.78,1694.12 165.73,1559.75 183.67,1514.96 201.61,1694.12 219.55,1649.33 237.5,1649.33 255.44,1738.91 273.38,1694.12 291.32,1604.54 309.27,1694.12 327.21,1604.54 345.15,1604.54 363.09,1649.33 381.04,1649.33 398.98,1694.12 416.92,1470.17 434.86,1649.33 452.81,1694.12 470.75,1604.54 488.69,1783.7 506.63,1694.12 524.58,1694.12 542.52,1738.91 560.46,1649.33 578.4,1559.75 596.35,1559.75 614.29,1649.33 632.23,1649.33 650.17,1694.12 668.12,1604.54 686.06,1470.17 704,1604.54" fill="none" stroke="#0066cc" stroke-opacity="0.76" stroke-width="5.7" stroke-linejoin="round" stroke-linecap="round"/>
<g fill="#0066cc"><rect x="104.9" y="1597.54" width="14" height="14"/><rect x="122.84" y="1687.12" width="14" height="14"/><rect x="140.78" y="1687.12" width="14" height="14"/><rect x="158.73" y="1552.75" width="14" height="14"/><rect x="176.67" y="1507.96" width="14" height="14"/><rect x="194.61" y="1687.12" width="14" height="14"/><rect x="212.55" y="1642.33" width="14" height="14"/><rect x="230.5" y="1642.33" width="14" height="14"/><rect x="248.44" y="1731.91" width="14" height="14"/><rect x="266.38" y="1687.12" width="14" height="14"/><rect x="284.32" y="1597.54" width="14" height="14"/><rect x="302.27" y="1687.12" width="14" height="14"/><rect x="320.21" y="1597.54" width="14" height="14"/><rect x="338.15" y="1597.54" width="14" height="14"/><rect x="356.09" y="1642.33" width="14" height="14"/><rect x="374.04" y="1642.33" width="14" height="14"/><rect x="391.98" y="1687.12" width="14" height="14"/><rect x="409.92" y="1463.17" width="14" height="14"/><rect x="427.86" y="1642.33" width="14" height="14"/><rect x="445.81" y="1687.12" width="14" height="14"/><rect x="463.75" y="1597.54" width="14" height="14"/><rect x="481.69" y="1776.7" width="14" height="14"/><rect x="499.63" y="1687.12" width="14" height="14"/><rect x="517.58" y="1687.12" width="14" height="14"/><rect x="535.52" y="1731.91" width="14" height="14"/><rect x="553.46" y="1642.33" width="14" height="14"/><rect x="571.4" y="1552.75" width="14" height="14"/><rect x="589.35" y="1552.75" width="14" height="14"/><rect x="607.29" y="1642.33" width="14" height="14"/><rect x="625.23" y="1642.33" width="14" height="14"/><rect x="643.17" y="1687.12" width="14" height="14"/><rect x="661.12" y="1597.54" width="14" height="14"/><rect x="679.06" y="1463.17" width="14" height="14"/><rect x="697" y="1597.54" width="14" height="14"/></g>
<polyline points="111.9,1694.12 129.84,1694.12 147.78,1470.17 165.73,1694.12 183.67,1604.54 201.61,1649.33 219.55,1694.12 237.5,1694.12 255.44,1694.12 273.38,1649.33 291.32,1559.75 309.27,1425.38 327.21,1604.54 345.15,1559.75 363.09,1694.12 381.04,1604.54 398.98,1604.54 416.92,1559.75 434.86,1649.33 452.81,1649.33 470.75,1649.33 488.69,1738.91 506.63,1738.91 524.58,1738.91 542.52,1649.33 560.46,1694.12 578.4,1694.12 596.35,1649.33 614.29,1649.33 632.23,1694.12 650.17,1514.96 668.12,1514.96 686.06,1649.33 704,1649.33" fill="none" stroke="#ff0000" stroke-opacity="0.78" stroke-width="5.7" stroke-linejoin="round" stroke-linecap="round"/>
<g fill="#ff0000"><circle cx="111.9" cy="1694.12" r="7"/><circle cx="129.84" cy="1694.12" r="7"/><circle cx="147.78" cy="1470.17" r="7"/><circle cx="165.73" cy="1694.12" r="7"/><circle cx="183.67" cy="1604.54" r="7"/><circle cx="201.61" cy="1649.33" r="7"/><circle cx="219.55" cy="1694.12" r="7"/><circle cx="237.5" cy="1694.12" r="7"/><circle cx="255.44" cy="1694.12" r="7"/><circle cx="273.38" cy="1649.33" r="7"/><circle cx="291.32" cy="1559.75" r="7"/><circle cx="309.27" cy="1425.38" r="7"/><circle cx="327.21" cy="1604.54" r="7"/><circle cx="345.15" cy="1559.75" r="7"/><circle cx="363.09" cy="1694.12" r="7"/><circle cx="381.04" cy="1604.54" r="7"/><circle cx="398.98" cy="1604.54" r="7"/><circle cx="416.92" cy="1559.75" r="7"/><circle cx="434.86" cy="1649.33" r="7"/><circle cx="452.81" cy="1649.33" r="7"/><circle cx="470.75" cy="1649.33" r="7"/><circle cx="488.69" cy="1738.91" r="7"/><circle cx="506.63" cy="1738.91" r="7"/><circle cx="524.58" cy="1738.91" r="7"/><circle cx="542.52" cy="1649.33" r="7"/><circle cx="560.46" cy="1694.12" r="7"/><circle cx="578.4" cy="1694.12" r="7"/><circle cx="596.35" cy="1649.33" r="7"/><circle cx="614.29" cy="1649.33" r="7"/><circle cx="632.23" cy="1694.12" r="7"/><circle cx="650.17" cy="1514.96" r="7"/><circle cx="668.12" cy="1514.96" r="7"/><circle cx="686.06" cy="1649.33" r="7"/><circle cx="704" cy="1649.33" r="7"/></g>
<line x1="111.9" y1="1662.65" x2="704" y2="1620.2" stroke="#4a4a4a" stroke-width="5.8" stroke-linecap="round" stroke-dasharray="3.8 16.7"/>
<text x="4.58" y="1310.6" font-size="44" font-weight="bold" fill="#000">e</text>
<text x="45.83" y="1307.6" font-size="34" font-weight="bold" fill="#000">Korea</text>
<text x="421.27" y="1288.9" font-size="31.35" font-weight="bold" fill="#0066cc">Lead -1: 32% (68%)</text>
<text x="421.27" y="1323.4" font-size="31.35" font-weight="bold" fill="#ff0000">Lead -6: 32% (71%)</text>
<text x="411.66" y="1354.6" font-size="28.5" font-weight="bold" font-style="italic" fill="#333333">+0.28 TY+STY/decade</text>
<g stroke="#000" stroke-width="2.1" fill="none" stroke-linecap="round">
<path d="M842 1335.8V1788.8M831.7 1783.6H842M831.7 1719.63H842M831.7 1655.66H842M831.7 1591.69H842M831.7 1527.71H842M831.7 1463.74H842M831.7 1399.77H842M831.7 1335.8H842M842 1783.6H1433.9M859.94 1783.6v5.2M877.87 1783.6v5.2M895.81 1783.6v10.5M913.75 1783.6v5.2M931.68 1783.6v5.2M949.62 1783.6v5.2M967.55 1783.6v5.2M985.49 1783.6v10.5M1003.43 1783.6v5.2M1021.36 1783.6v5.2M1039.3 1783.6v5.2M1057.24 1783.6v5.2M1075.17 1783.6v10.5M1093.11 1783.6v5.2M1111.05 1783.6v5.2M1128.98 1783.6v5.2M1146.92 1783.6v5.2M1164.85 1783.6v10.5M1182.79 1783.6v5.2M1200.73 1783.6v5.2M1218.66 1783.6v5.2M1236.6 1783.6v5.2M1254.54 1783.6v10.5M1272.47 1783.6v5.2M1290.41 1783.6v5.2M1308.35 1783.6v5.2M1326.28 1783.6v5.2M1344.22 1783.6v10.5M1362.15 1783.6v5.2M1380.09 1783.6v5.2M1398.03 1783.6v5.2M1415.96 1783.6v5.2M1433.9 1783.6v10.5"/>
</g>
<text x="810.4" y="1793.58" font-size="28.6" fill="#000" text-anchor="end">0</text>
<text x="810.4" y="1729.61" font-size="28.6" fill="#000" text-anchor="end">2</text>
<text x="810.4" y="1665.64" font-size="28.6" fill="#000" text-anchor="end">4</text>
<text x="810.4" y="1601.67" font-size="28.6" fill="#000" text-anchor="end">6</text>
<text x="810.4" y="1537.69" font-size="28.6" fill="#000" text-anchor="end">8</text>
<text x="810.4" y="1473.72" font-size="28.6" fill="#000" text-anchor="end">10</text>
<text x="810.4" y="1409.75" font-size="28.6" fill="#000" text-anchor="end">12</text>
<text x="810.4" y="1345.78" font-size="28.6" fill="#000" text-anchor="end">14</text>
<text x="895.81" y="1839.9" font-size="28.6" fill="#000" text-anchor="middle">1990</text>
<text x="985.49" y="1839.9" font-size="28.6" fill="#000" text-anchor="middle">1995</text>
<text x="1075.17" y="1839.9" font-size="28.6" fill="#000" text-anchor="middle">2000</text>
<text x="1164.85" y="1839.9" font-size="28.6" fill="#000" text-anchor="middle">2005</text>
<text x="1254.54" y="1839.9" font-size="28.6" fill="#000" text-anchor="middle">2010</text>
<text x="1344.22" y="1839.9" font-size="28.6" fill="#000" text-anchor="middle">2015</text>
<text x="1433.9" y="1839.9" font-size="28.6" fill="#000" text-anchor="middle">2020</text>
<text x="1137.95" y="1872.6" font-size="28.6" font-weight="bold" fill="#000" text-anchor="middle">Year</text>
<text transform="translate(763.3 1559.7) rotate(-90)" font-size="28.6" font-weight="bold" text-anchor="middle">TY/STY count</text>
<polyline points="842,1399.77 859.94,1559.7 877.87,1559.7 895.81,1399.77 913.75,1463.74 931.68,1463.74 949.62,1559.7 967.55,1495.73 985.49,1559.7 1003.43,1463.74 1021.36,1527.71 1039.3,1591.69 1057.24,1655.66 1075.17,1559.7 1093.11,1559.7 1111.05,1623.67 1128.98,1431.76 1146.92,1399.77 1164.85,1495.73 1182.79,1527.71 1200.73,1527.71 1218.66,1559.7 1236.6,1623.67 1254.54,1623.67 1272.47,1559.7 1290.41,1527.71 1308.35,1431.76 1326.28,1527.71 1344.22,1559.7 1362.15,1463.74 1380.09,1687.64 1398.03,1559.7 1415.96,1559.7 1433.9,1623.67" fill="none" stroke="#3c3c3c" stroke-width="5.7" stroke-linejoin="round" stroke-linecap="round"/>
<polyline points="842,1431.76 859.94,1623.67 877.87,1527.71 895.81,1495.73 913.75,1431.76 931.68,1463.74 949.62,1495.73 967.55,1463.74 985.49,1559.7 1003.43,1463.74 1021.36,1527.71 1039.3,1495.73 1057.24,1623.67 1075.17,1623.67 1093.11,1591.69 1111.05,1623.67 1128.98,1463.74 1146.92,1463.74 1164.85,1591.69 1182.79,1527.71 1200.73,1559.7 1218.66,1559.7 1236.6,1527.71 1254.54,1623.67 1272.47,1559.7 1290.41,1495.73 1308.35,1495.73 1326.28,1527.71 1344.22,1463.74 1362.15,1495.73 1380.09,1527.71 1398.03,1559.7 1415.96,1559.7 1433.9,1591.69" fill="none" stroke="#0066cc" stroke-opacity="0.76" stroke-width="5.7" stroke-linejoin="round" stroke-linecap="round"/>
<g fill="#0066cc"><rect x="835" y="1424.76" width="14" height="14"/><rect x="852.94" y="1616.67" width="14" height="14"/><rect x="870.87" y="1520.71" width="14" height="14"/><rect x="888.81" y="1488.73" width="14" height="14"/><rect x="906.75" y="1424.76" width="14" height="14"/><rect x="924.68" y="1456.74" width="14" height="14"/><rect x="942.62" y="1488.73" width="14" height="14"/><rect x="960.55" y="1456.74" width="14" height="14"/><rect x="978.49" y="1552.7" width="14" height="14"/><rect x="996.43" y="1456.74" width="14" height="14"/><rect x="1014.36" y="1520.71" width="14" height="14"/><rect x="1032.3" y="1488.73" width="14" height="14"/><rect x="1050.24" y="1616.67" width="14" height="14"/><rect x="1068.17" y="1616.67" width="14" height="14"/><rect x="1086.11" y="1584.69" width="14" height="14"/><rect x="1104.05" y="1616.67" width="14" height="14"/><rect x="1121.98" y="1456.74" width="14" height="14"/><rect x="1139.92" y="1456.74" width="14" height="14"/><rect x="1157.85" y="1584.69" width="14" height="14"/><rect x="1175.79" y="1520.71" width="14" height="14"/><rect x="1193.73" y="1552.7" width="14" height="14"/><rect x="1211.66" y="1552.7" width="14" height="14"/><rect x="1229.6" y="1520.71" width="14" height="14"/><rect x="1247.54" y="1616.67" width="14" height="14"/><rect x="1265.47" y="1552.7" width="14" height="14"/><rect x="1283.41" y="1488.73" width="14" height="14"/><rect x="1301.35" y="1488.73" width="14" height="14"/><rect x="1319.28" y="1520.71" width="14" height="14"/><rect x="1337.22" y="1456.74" width="14" height="14"/><rect x="1355.15" y="1488.73" width="14" height="14"/><rect x="1373.09" y="1520.71" width="14" height="14"/><rect x="1391.03" y="1552.7" width="14" height="14"/><rect x="1408.96" y="1552.7" width="14" height="14"/><rect x="1426.9" y="1584.69" width="14" height="14"/></g>
<polyline points="842,1495.73 859.94,1559.7 877.87,1527.71 895.81,1463.74 913.75,1367.79 931.68,1495.73 949.62,1527.71 967.55,1463.74 985.49,1399.77 1003.43,1431.76 1021.36,1527.71 1039.3,1559.7 1057.24,1591.69 1075.17,1591.69 1093.11,1527.71 1111.05,1655.66 1128.98,1527.71 1146.92,1495.73 1164.85,1527.71 1182.79,1527.71 1200.73,1559.7 1218.66,1527.71 1236.6,1623.67 1254.54,1559.7 1272.47,1591.69 1290.41,1431.76 1308.35,1463.74 1326.28,1527.71 1344.22,1559.7 1362.15,1527.71 1380.09,1655.66 1398.03,1559.7 1415.96,1591.69 1433.9,1623.67" fill="none" stroke="#ff0000" stroke-opacity="0.78" stroke-width="5.7" stroke-linejoin="round" stroke-linecap="round"/>
<g fill="#ff0000"><circle cx="842" cy="1495.73" r="7"/><circle cx="859.94" cy="1559.7" r="7"/><circle cx="877.87" cy="1527.71" r="7"/><circle cx="895.81" cy="1463.74" r="7"/><circle cx="913.75" cy="1367.79" r="7"/><circle cx="931.68" cy="1495.73" r="7"/><circle cx="949.62" cy="1527.71" r="7"/><circle cx="967.55" cy="1463.74" r="7"/><circle cx="985.49" cy="1399.77" r="7"/><circle cx="1003.43" cy="1431.76" r="7"/><circle cx="1021.36" cy="1527.71" r="7"/><circle cx="1039.3" cy="1559.7" r="7"/><circle cx="1057.24" cy="1591.69" r="7"/><circle cx="1075.17" cy="1591.69" r="7"/><circle cx="1093.11" cy="1527.71" r="7"/><circle cx="1111.05" cy="1655.66" r="7"/><circle cx="1128.98" cy="1527.71" r="7"/><circle cx="1146.92" cy="1495.73" r="7"/><circle cx="1164.85" cy="1527.71" r="7"/><circle cx="1182.79" cy="1527.71" r="7"/><circle cx="1200.73" cy="1559.7" r="7"/><circle cx="1218.66" cy="1527.71" r="7"/><circle cx="1236.6" cy="1623.67" r="7"/><circle cx="1254.54" cy="1559.7" r="7"/><circle cx="1272.47" cy="1591.69" r="7"/><circle cx="1290.41" cy="1431.76" r="7"/><circle cx="1308.35" cy="1463.74" r="7"/><circle cx="1326.28" cy="1527.71" r="7"/><circle cx="1344.22" cy="1559.7" r="7"/><circle cx="1362.15" cy="1527.71" r="7"/><circle cx="1380.09" cy="1655.66" r="7"/><circle cx="1398.03" cy="1559.7" r="7"/><circle cx="1415.96" cy="1591.69" r="7"/><circle cx="1433.9" cy="1623.67" r="7"/></g>
<line x1="842" y1="1492.23" x2="1433.9" y2="1574.48" stroke="#4a4a4a" stroke-width="5.8" stroke-linecap="round" stroke-dasharray="3.8 16.7"/>
<text x="735.05" y="1311.2" font-size="44" font-weight="bold" fill="#000">f</text>
<text x="767.83" y="1307.6" font-size="34" font-weight="bold" fill="#000">Philippines</text>
<text x="1146.87" y="1290" font-size="31.35" font-weight="bold" fill="#0066cc">Lead -1: 35% (68%)</text>
<text x="1146.87" y="1324.5" font-size="31.35" font-weight="bold" fill="#ff0000">Lead -6: 24% (68%)</text>
<text x="1132.62" y="1366.7" font-size="28.5" font-weight="bold" font-style="italic" fill="#333333">-0.76 TY+STY/decade</text>
<text x="1422.16" y="1356.72" font-size="27.5" fill="#000">*</text>
<g stroke="#000" stroke-width="2.1" fill="none" stroke-linecap="round">
<path d="M111.2 1964V2417M100.9 2411.8H111.2M100.9 2367.02H111.2M100.9 2322.24H111.2M100.9 2277.46H111.2M100.9 2232.68H111.2M100.9 2187.9H111.2M100.9 2143.12H111.2M100.9 2098.34H111.2M100.9 2053.56H111.2M100.9 2008.78H111.2M100.9 1964H111.2M111.2 2411.8H703.1M129.14 2411.8v5.2M147.07 2411.8v5.2M165.01 2411.8v10.5M182.95 2411.8v5.2M200.88 2411.8v5.2M218.82 2411.8v5.2M236.75 2411.8v5.2M254.69 2411.8v10.5M272.63 2411.8v5.2M290.56 2411.8v5.2M308.5 2411.8v5.2M326.44 2411.8v5.2M344.37 2411.8v10.5M362.31 2411.8v5.2M380.25 2411.8v5.2M398.18 2411.8v5.2M416.12 2411.8v5.2M434.05 2411.8v10.5M451.99 2411.8v5.2M469.93 2411.8v5.2M487.86 2411.8v5.2M505.8 2411.8v5.2M523.74 2411.8v10.5M541.67 2411.8v5.2M559.61 2411.8v5.2M577.55 2411.8v5.2M595.48 2411.8v5.2M613.42 2411.8v10.5M631.35 2411.8v5.2M649.29 2411.8v5.2M667.23 2411.8v5.2M685.16 2411.8v5.2M703.1 2411.8v10.5"/>
</g>
<text x="79.6" y="2421.78" font-size="28.6" fill="#000" text-anchor="end">0</text>
<text x="79.6" y="2377" font-size="28.6" fill="#000" text-anchor="end">2</text>
<text x="79.6" y="2332.22" font-size="28.6" fill="#000" text-anchor="end">4</text>
<text x="79.6" y="2287.44" font-size="28.6" fill="#000" text-anchor="end">6</text>
<text x="79.6" y="2242.66" font-size="28.6" fill="#000" text-anchor="end">8</text>
<text x="79.6" y="2197.88" font-size="28.6" fill="#000" text-anchor="end">10</text>
<text x="79.6" y="2153.1" font-size="28.6" fill="#000" text-anchor="end">12</text>
<text x="79.6" y="2108.32" font-size="28.6" fill="#000" text-anchor="end">14</text>
<text x="79.6" y="2063.54" font-size="28.6" fill="#000" text-anchor="end">16</text>
<text x="79.6" y="2018.76" font-size="28.6" fill="#000" text-anchor="end">18</text>
<text x="79.6" y="1973.98" font-size="28.6" fill="#000" text-anchor="end">20</text>
<text x="165.01" y="2468.1" font-size="28.6" fill="#000" text-anchor="middle">1990</text>
<text x="254.69" y="2468.1" font-size="28.6" fill="#000" text-anchor="middle">1995</text>
<text x="344.37" y="2468.1" font-size="28.6" fill="#000" text-anchor="middle">2000</text>
<text x="434.05" y="2468.1" font-size="28.6" fill="#000" text-anchor="middle">2005</text>
<text x="523.74" y="2468.1" font-size="28.6" fill="#000" text-anchor="middle">2010</text>
<text x="613.42" y="2468.1" font-size="28.6" fill="#000" text-anchor="middle">2015</text>
<text x="703.1" y="2468.1" font-size="28.6" fill="#000" text-anchor="middle">2020</text>
<text x="407.15" y="2500.8" font-size="28.6" font-weight="bold" fill="#000" text-anchor="middle">Year</text>
<text transform="translate(32.6 2187.9) rotate(-90)" font-size="28.6" font-weight="bold" text-anchor="middle">TY/STY count</text>
<polyline points="111.2,2299.85 129.14,2299.85 147.07,2299.85 165.01,2322.24 182.95,2299.85 200.88,2277.46 218.82,2232.68 236.75,2389.41 254.69,2187.9 272.63,2277.46 290.56,2344.63 308.5,2367.02 326.44,2322.24 344.37,2322.24 362.31,2344.63 380.25,2411.8 398.18,2299.85 416.12,2344.63 434.05,2344.63 451.99,2322.24 469.93,2344.63 487.86,2367.02 505.8,2277.46 523.74,2299.85 541.67,2367.02 559.61,2322.24 577.55,2232.68 595.48,2367.02 613.42,2367.02 631.35,2255.07 649.29,2322.24 667.23,2344.63 685.16,2389.41 703.1,2344.63" fill="none" stroke="#3c3c3c" stroke-width="5.7" stroke-linejoin="round" stroke-linecap="round"/>
<polyline points="111.2,2299.85 129.14,2277.46 147.07,2232.68 165.01,2389.41 182.95,2299.85 200.88,2277.46 218.82,2299.85 236.75,2389.41 254.69,2367.02 272.63,2299.85 290.56,2344.63 308.5,1986.39 326.44,2389.41 344.37,2277.46 362.31,2344.63 380.25,2367.02 398.18,2299.85 416.12,2344.63 434.05,2299.85 451.99,2210.29 469.93,2322.24 487.86,2389.41 505.8,2344.63 523.74,2367.02 541.67,2277.46 559.61,2344.63 577.55,2277.46 595.48,2344.63 613.42,2344.63 631.35,2277.46 649.29,2255.07 667.23,2299.85 685.16,2389.41 703.1,2389.41" fill="none" stroke="#0066cc" stroke-opacity="0.76" stroke-width="5.7" stroke-linejoin="round" stroke-linecap="round"/>
<g fill="#0066cc"><rect x="104.2" y="2292.85" width="14" height="14"/><rect x="122.14" y="2270.46" width="14" height="14"/><rect x="140.07" y="2225.68" width="14" height="14"/><rect x="158.01" y="2382.41" width="14" height="14"/><rect x="175.95" y="2292.85" width="14" height="14"/><rect x="193.88" y="2270.46" width="14" height="14"/><rect x="211.82" y="2292.85" width="14" height="14"/><rect x="229.75" y="2382.41" width="14" height="14"/><rect x="247.69" y="2360.02" width="14" height="14"/><rect x="265.63" y="2292.85" width="14" height="14"/><rect x="283.56" y="2337.63" width="14" height="14"/><rect x="301.5" y="1979.39" width="14" height="14"/><rect x="319.44" y="2382.41" width="14" height="14"/><rect x="337.37" y="2270.46" width="14" height="14"/><rect x="355.31" y="2337.63" width="14" height="14"/><rect x="373.25" y="2360.02" width="14" height="14"/><rect x="391.18" y="2292.85" width="14" height="14"/><rect x="409.12" y="2337.63" width="14" height="14"/><rect x="427.05" y="2292.85" width="14" height="14"/><rect x="444.99" y="2203.29" width="14" height="14"/><rect x="462.93" y="2315.24" width="14" height="14"/><rect x="480.86" y="2382.41" width="14" height="14"/><rect x="498.8" y="2337.63" width="14" height="14"/><rect x="516.74" y="2360.02" width="14" height="14"/><rect x="534.67" y="2270.46" width="14" height="14"/><rect x="552.61" y="2337.63" width="14" height="14"/><rect x="570.55" y="2270.46" width="14" height="14"/><rect x="588.48" y="2337.63" width="14" height="14"/><rect x="606.42" y="2337.63" width="14" height="14"/><rect x="624.35" y="2270.46" width="14" height="14"/><rect x="642.29" y="2248.07" width="14" height="14"/><rect x="660.23" y="2292.85" width="14" height="14"/><rect x="678.16" y="2382.41" width="14" height="14"/><rect x="696.1" y="2382.41" width="14" height="14"/></g>
<polyline points="111.2,2322.24 129.14,2299.85 147.07,2299.85 165.01,2367.02 182.95,2299.85 200.88,2255.07 218.82,2299.85 236.75,2411.8 254.69,2277.46 272.63,2277.46 290.56,2277.46 308.5,2344.63 326.44,2299.85 344.37,2322.24 362.31,2299.85 380.25,2389.41 398.18,2344.63 416.12,2344.63 434.05,2277.46 451.99,2389.41 469.93,2322.24 487.86,2322.24 505.8,2299.85 523.74,2299.85 541.67,2367.02 559.61,2277.46 577.55,2322.24 595.48,2367.02 613.42,2299.85 631.35,2187.9 649.29,2367.02 667.23,2322.24 685.16,2389.41 703.1,2389.41" fill="none" stroke="#ff0000" stroke-opacity="0.78" stroke-width="5.7" stroke-linejoin="round" stroke-linecap="round"/>
<g fill="#ff0000"><circle cx="111.2" cy="2322.24" r="7"/><circle cx="129.14" cy="2299.85" r="7"/><circle cx="147.07" cy="2299.85" r="7"/><circle cx="165.01" cy="2367.02" r="7"/><circle cx="182.95" cy="2299.85" r="7"/><circle cx="200.88" cy="2255.07" r="7"/><circle cx="218.82" cy="2299.85" r="7"/><circle cx="236.75" cy="2411.8" r="7"/><circle cx="254.69" cy="2277.46" r="7"/><circle cx="272.63" cy="2277.46" r="7"/><circle cx="290.56" cy="2277.46" r="7"/><circle cx="308.5" cy="2344.63" r="7"/><circle cx="326.44" cy="2299.85" r="7"/><circle cx="344.37" cy="2322.24" r="7"/><circle cx="362.31" cy="2299.85" r="7"/><circle cx="380.25" cy="2389.41" r="7"/><circle cx="398.18" cy="2344.63" r="7"/><circle cx="416.12" cy="2344.63" r="7"/><circle cx="434.05" cy="2277.46" r="7"/><circle cx="451.99" cy="2389.41" r="7"/><circle cx="469.93" cy="2322.24" r="7"/><circle cx="487.86" cy="2322.24" r="7"/><circle cx="505.8" cy="2299.85" r="7"/><circle cx="523.74" cy="2299.85" r="7"/><circle cx="541.67" cy="2367.02" r="7"/><circle cx="559.61" cy="2277.46" r="7"/><circle cx="577.55" cy="2322.24" r="7"/><circle cx="595.48" cy="2367.02" r="7"/><circle cx="613.42" cy="2299.85" r="7"/><circle cx="631.35" cy="2187.9" r="7"/><circle cx="649.29" cy="2367.02" r="7"/><circle cx="667.23" cy="2322.24" r="7"/><circle cx="685.16" cy="2389.41" r="7"/><circle cx="703.1" cy="2389.41" r="7"/></g>
<line x1="111.2" y1="2299.02" x2="703.1" y2="2342.82" stroke="#4a4a4a" stroke-width="5.8" stroke-linecap="round" stroke-dasharray="3.8 16.7"/>
<text x="5.7" y="1935.8" font-size="44" font-weight="bold" fill="#000">g</text>
<text x="46.82" y="1935.4" font-size="34" font-weight="bold" fill="#000">Thailand</text>
<text x="421.97" y="1933.9" font-size="31.35" font-weight="bold" fill="#0066cc">Lead -1: 24% (47%)</text>
<text x="421.97" y="1968.3" font-size="31.35" font-weight="bold" fill="#ff0000">Lead -6: 35% (59%)</text>
<text x="407.62" y="2010" font-size="28.5" font-weight="bold" font-style="italic" fill="#333333">-0.56 TY+STY/decade</text>
<text x="698.16" y="2000.72" font-size="27.5" fill="#000">*</text>
<g stroke="#000" stroke-width="2.1" fill="none" stroke-linecap="round">
<path d="M841.1 1963.9V2416.8M830.8 2411.6H841.1M830.8 2347.64H841.1M830.8 2283.69H841.1M830.8 2219.73H841.1M830.8 2155.77H841.1M830.8 2091.81H841.1M830.8 2027.86H841.1M830.8 1963.9H841.1M841.1 2411.6H1432.9M859.03 2411.6v5.2M876.97 2411.6v5.2M894.9 2411.6v10.5M912.83 2411.6v5.2M930.77 2411.6v5.2M948.7 2411.6v5.2M966.63 2411.6v5.2M984.57 2411.6v10.5M1002.5 2411.6v5.2M1020.43 2411.6v5.2M1038.37 2411.6v5.2M1056.3 2411.6v5.2M1074.23 2411.6v10.5M1092.17 2411.6v5.2M1110.1 2411.6v5.2M1128.03 2411.6v5.2M1145.97 2411.6v5.2M1163.9 2411.6v10.5M1181.83 2411.6v5.2M1199.77 2411.6v5.2M1217.7 2411.6v5.2M1235.63 2411.6v5.2M1253.57 2411.6v10.5M1271.5 2411.6v5.2M1289.43 2411.6v5.2M1307.37 2411.6v5.2M1325.3 2411.6v5.2M1343.23 2411.6v10.5M1361.17 2411.6v5.2M1379.1 2411.6v5.2M1397.03 2411.6v5.2M1414.97 2411.6v5.2M1432.9 2411.6v10.5"/>
</g>
<text x="809.5" y="2421.58" font-size="28.6" fill="#000" text-anchor="end">0</text>
<text x="809.5" y="2357.62" font-size="28.6" fill="#000" text-anchor="end">2</text>
<text x="809.5" y="2293.67" font-size="28.6" fill="#000" text-anchor="end">4</text>
<text x="809.5" y="2229.71" font-size="28.6" fill="#000" text-anchor="end">6</text>
<text x="809.5" y="2165.75" font-size="28.6" fill="#000" text-anchor="end">8</text>
<text x="809.5" y="2101.79" font-size="28.6" fill="#000" text-anchor="end">10</text>
<text x="809.5" y="2037.84" font-size="28.6" fill="#000" text-anchor="end">12</text>
<text x="809.5" y="1973.88" font-size="28.6" fill="#000" text-anchor="end">14</text>
<text x="894.9" y="2467.9" font-size="28.6" fill="#000" text-anchor="middle">1990</text>
<text x="984.57" y="2467.9" font-size="28.6" fill="#000" text-anchor="middle">1995</text>
<text x="1074.23" y="2467.9" font-size="28.6" fill="#000" text-anchor="middle">2000</text>
<text x="1163.9" y="2467.9" font-size="28.6" fill="#000" text-anchor="middle">2005</text>
<text x="1253.57" y="2467.9" font-size="28.6" fill="#000" text-anchor="middle">2010</text>
<text x="1343.23" y="2467.9" font-size="28.6" fill="#000" text-anchor="middle">2015</text>
<text x="1432.9" y="2467.9" font-size="28.6" fill="#000" text-anchor="middle">2020</text>
<text x="1137" y="2500.6" font-size="28.6" font-weight="bold" fill="#000" text-anchor="middle">Year</text>
<text transform="translate(763.3 2187.75) rotate(-90)" font-size="28.6" font-weight="bold" text-anchor="middle">TY/STY count</text>
<polyline points="841.1,2283.69 859.03,2251.71 876.97,2283.69 894.9,2283.69 912.83,2283.69 930.77,2251.71 948.7,2155.77 966.63,2411.6 984.57,2091.81 1002.5,2251.71 1020.43,2315.66 1038.37,2347.64 1056.3,2283.69 1074.23,2283.69 1092.17,2251.71 1110.1,2411.6 1128.03,2251.71 1145.97,2315.66 1163.9,2347.64 1181.83,2283.69 1199.77,2315.66 1217.7,2347.64 1235.63,2219.73 1253.57,2283.69 1271.5,2347.64 1289.43,2283.69 1307.37,2187.75 1325.3,2347.64 1343.23,2347.64 1361.17,2251.71 1379.1,2283.69 1397.03,2315.66 1414.97,2379.62 1432.9,2315.66" fill="none" stroke="#3c3c3c" stroke-width="5.7" stroke-linejoin="round" stroke-linecap="round"/>
<polyline points="841.1,2219.73 859.03,2091.81 876.97,2347.64 894.9,2315.66 912.83,2347.64 930.77,2251.71 948.7,2251.71 966.63,2411.6 984.57,2155.77 1002.5,2347.64 1020.43,2347.64 1038.37,2347.64 1056.3,2347.64 1074.23,2315.66 1092.17,2347.64 1110.1,2379.62 1128.03,2251.71 1145.97,2347.64 1163.9,2347.64 1181.83,2123.79 1199.77,2347.64 1217.7,2283.69 1235.63,2027.86 1253.57,2251.71 1271.5,2219.73 1289.43,2251.71 1307.37,2315.66 1325.3,2379.62 1343.23,2283.69 1361.17,2315.66 1379.1,2155.77 1397.03,2283.69 1414.97,2379.62 1432.9,2347.64" fill="none" stroke="#0066cc" stroke-opacity="0.76" stroke-width="5.7" stroke-linejoin="round" stroke-linecap="round"/>
<g fill="#0066cc"><rect x="834.1" y="2212.73" width="14" height="14"/><rect x="852.03" y="2084.81" width="14" height="14"/><rect x="869.97" y="2340.64" width="14" height="14"/><rect x="887.9" y="2308.66" width="14" height="14"/><rect x="905.83" y="2340.64" width="14" height="14"/><rect x="923.77" y="2244.71" width="14" height="14"/><rect x="941.7" y="2244.71" width="14" height="14"/><rect x="959.63" y="2404.6" width="14" height="14"/><rect x="977.57" y="2148.77" width="14" height="14"/><rect x="995.5" y="2340.64" width="14" height="14"/><rect x="1013.43" y="2340.64" width="14" height="14"/><rect x="1031.37" y="2340.64" width="14" height="14"/><rect x="1049.3" y="2340.64" width="14" height="14"/><rect x="1067.23" y="2308.66" width="14" height="14"/><rect x="1085.17" y="2340.64" width="14" height="14"/><rect x="1103.1" y="2372.62" width="14" height="14"/><rect x="1121.03" y="2244.71" width="14" height="14"/><rect x="1138.97" y="2340.64" width="14" height="14"/><rect x="1156.9" y="2340.64" width="14" height="14"/><rect x="1174.83" y="2116.79" width="14" height="14"/><rect x="1192.77" y="2340.64" width="14" height="14"/><rect x="1210.7" y="2276.69" width="14" height="14"/><rect x="1228.63" y="2020.86" width="14" height="14"/><rect x="1246.57" y="2244.71" width="14" height="14"/><rect x="1264.5" y="2212.73" width="14" height="14"/><rect x="1282.43" y="2244.71" width="14" height="14"/><rect x="1300.37" y="2308.66" width="14" height="14"/><rect x="1318.3" y="2372.62" width="14" height="14"/><rect x="1336.23" y="2276.69" width="14" height="14"/><rect x="1354.17" y="2308.66" width="14" height="14"/><rect x="1372.1" y="2148.77" width="14" height="14"/><rect x="1390.03" y="2276.69" width="14" height="14"/><rect x="1407.97" y="2372.62" width="14" height="14"/><rect x="1425.9" y="2340.64" width="14" height="14"/></g>
<polyline points="841.1,2315.66 859.03,2219.73 876.97,2283.69 894.9,2283.69 912.83,2347.64 930.77,2251.71 948.7,2123.79 966.63,2379.62 984.57,2091.81 1002.5,2283.69 1020.43,2283.69 1038.37,2315.66 1056.3,2219.73 1074.23,2347.64 1092.17,2283.69 1110.1,2379.62 1128.03,2219.73 1145.97,2283.69 1163.9,2315.66 1181.83,2347.64 1199.77,2315.66 1217.7,2347.64 1235.63,2187.75 1253.57,2315.66 1271.5,2283.69 1289.43,2283.69 1307.37,2283.69 1325.3,2251.71 1343.23,2347.64 1361.17,2315.66 1379.1,2347.64 1397.03,2315.66 1414.97,2315.66 1432.9,2347.64" fill="none" stroke="#ff0000" stroke-opacity="0.78" stroke-width="5.7" stroke-linejoin="round" stroke-linecap="round"/>
<g fill="#ff0000"><circle cx="841.1" cy="2315.66" r="7"/><circle cx="859.03" cy="2219.73" r="7"/><circle cx="876.97" cy="2283.69" r="7"/><circle cx="894.9" cy="2283.69" r="7"/><circle cx="912.83" cy="2347.64" r="7"/><circle cx="930.77" cy="2251.71" r="7"/><circle cx="948.7" cy="2123.79" r="7"/><circle cx="966.63" cy="2379.62" r="7"/><circle cx="984.57" cy="2091.81" r="7"/><circle cx="1002.5" cy="2283.69" r="7"/><circle cx="1020.43" cy="2283.69" r="7"/><circle cx="1038.37" cy="2315.66" r="7"/><circle cx="1056.3" cy="2219.73" r="7"/><circle cx="1074.23" cy="2347.64" r="7"/><circle cx="1092.17" cy="2283.69" r="7"/><circle cx="1110.1" cy="2379.62" r="7"/><circle cx="1128.03" cy="2219.73" r="7"/><circle cx="1145.97" cy="2283.69" r="7"/><circle cx="1163.9" cy="2315.66" r="7"/><circle cx="1181.83" cy="2347.64" r="7"/><circle cx="1199.77" cy="2315.66" r="7"/><circle cx="1217.7" cy="2347.64" r="7"/><circle cx="1235.63" cy="2187.75" r="7"/><circle cx="1253.57" cy="2315.66" r="7"/><circle cx="1271.5" cy="2283.69" r="7"/><circle cx="1289.43" cy="2283.69" r="7"/><circle cx="1307.37" cy="2283.69" r="7"/><circle cx="1325.3" cy="2251.71" r="7"/><circle cx="1343.23" cy="2347.64" r="7"/><circle cx="1361.17" cy="2315.66" r="7"/><circle cx="1379.1" cy="2347.64" r="7"/><circle cx="1397.03" cy="2315.66" r="7"/><circle cx="1414.97" cy="2315.66" r="7"/><circle cx="1432.9" cy="2347.64" r="7"/></g>
<line x1="841.1" y1="2262.94" x2="1432.9" y2="2317.6" stroke="#4a4a4a" stroke-width="5.8" stroke-linecap="round" stroke-dasharray="3.8 16.7"/>
<text x="733.93" y="1938.2" font-size="44" font-weight="bold" fill="#000">h</text>
<text x="776.97" y="1935.4" font-size="34" font-weight="bold" fill="#000">Vietnam</text>
<text x="1151.97" y="1935.1" font-size="31.35" font-weight="bold" fill="#0066cc">Lead -1: 18% (47%)</text>
<text x="1151.97" y="1969.5" font-size="31.35" font-weight="bold" fill="#ff0000">Lead -6: 26% (71%)</text>
<text x="1149.02" y="2002.5" font-size="28.5" font-weight="bold" font-style="italic" fill="#333333">-0.50 TY+STY/decade</text>
<line x1="344.1" y1="2560.2" x2="435.9" y2="2560.2" stroke="#3c3c3c" stroke-width="6" stroke-linecap="round"/>
<line x1="344.1" y1="2608.6" x2="430" y2="2608.6" stroke="#4a4a4a" stroke-width="6" stroke-linecap="round" stroke-dasharray="3.4 17"/>
<text x="459.39" y="2572.3" font-size="34" fill="#000">Observed</text>
<text x="459.39" y="2619.7" font-size="34" fill="#000">Observed linear trend</text>
<line x1="826.8" y1="2560.1" x2="909.3" y2="2560.1" stroke="#0066cc" stroke-opacity="0.76" stroke-width="6.2"/>
<rect x="819.8" y="2553.1" width="14" height="14" fill="#0066cc"/><rect x="902.3" y="2553.1" width="14" height="14" fill="#0066cc"/>
<line x1="826.8" y1="2608.5" x2="909.3" y2="2608.5" stroke="#ff0000" stroke-opacity="0.78" stroke-width="6.2"/>
<circle cx="826.8" cy="2608.5" r="7" fill="#ff0000"/><circle cx="909.3" cy="2608.5" r="7" fill="#ff0000"/>
<text x="936.71" y="2571.8" font-size="34" fill="#000">LOOCV: Lag -1</text>
<text x="936.71" y="2619.9" font-size="34" fill="#000">LOOCV: Lag -6</text>
</svg></body></html>
